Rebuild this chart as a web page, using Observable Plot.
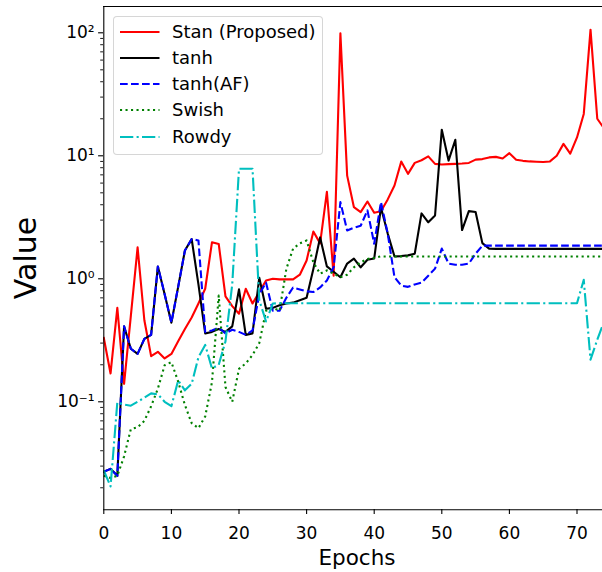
<!DOCTYPE html>
<html>
<head>
<meta charset="utf-8">
<script src="https://cdn.jsdelivr.net/npm/d3@7"></script>
<script src="https://cdn.jsdelivr.net/npm/@observablehq/plot@0.6"></script>
<style>
  html, body { margin: 0; padding: 0; background: #fff; }
  #wrap { position: relative; width: 602px; height: 572px; overflow: hidden; font-family: "DejaVu Sans", sans-serif; }
  #legend { position: absolute; left: 112.5px; top: 15.5px; width: 210px; height: 139px; box-sizing: border-box;
            border: 1.2px solid rgba(204,204,204,0.8); border-radius: 4px; background: rgba(255,255,255,0.8); }
  .row { position: absolute; left: 0; height: 26px; }
  .row svg { position: absolute; left: 5px; top: 0; }
  .row span { position: absolute; left: 58.5px; font-size: 18px; white-space: nowrap; line-height: 1; transform: translateY(-50%); top: 50%; }
</style>
</head>
<body>
<div id="wrap"><div id="legend"></div></div>
<script>
// Training epochs (x axis)
const epochs = d3.range(75);

// Value per epoch for each activation function
const stan = [0.33, 0.17, 0.58, 0.14, 0.5, 1.8, 0.46, 0.235, 0.255, 0.225,
  0.245, 0.31, 0.39, 0.485, 0.63, 0.83, 1.98, 1.92, 0.72, 0.6,
  0.52, 0.83, 0.63, 0.78, 0.97, 1.0, 0.99, 0.99, 0.99, 1.08,
  1.41, 2.42, 1.94, 5.1, 1.06, 99, 6.9, 3.82, 3.48, 4.25,
  3.44, 3.54, 4.42, 5.73, 8.97, 7.13, 8.76, 9.2, 9.9, 8.6,
  8.5, 8.55, 8.6, 8.65, 8.75, 9.3, 9.4, 9.7, 9.8, 9.5,
  10.5, 9.3, 9.1, 9.0, 8.95, 8.9, 9.0, 10.0, 12.5, 10.4,
  14.1, 21.9, 106, 20, 16.7];

const tanh = [0.027, 0.0285, 0.025, 0.41, 0.27, 0.245, 0.325, 0.35, 1.26, 0.75,
  0.44, 0.86, 1.7, 2.1, 0.9, 0.36, 0.37, 0.39, 0.37, 0.41,
  0.82, 0.35, 0.36, 1.02, 0.57, 0.58, 0.61, 0.63, 0.64, 0.67,
  0.7, 1.2, 2.17, 1.26, 1.14, 1.03, 1.33, 1.46, 1.24, 1.43,
  1.46, 3.8, 2.33, 1.52, 1.53, 1.55, 1.6, 3.4, 2.88, 3.27,
  16.3, 9.14, 13.5, 2.49, 3.55, 3.49, 1.95, 1.76, 1.75, 1.75,
  1.75, 1.75, 1.75, 1.75, 1.75, 1.75, 1.75, 1.75, 1.75, 1.75,
  1.75, 1.75, 1.75, 1.75, 1.75];

const tanhAF = [0.027, 0.0285, 0.025, 0.41, 0.27, 0.245, 0.325, 0.35, 1.26, 0.75,
  0.44, 0.86, 1.7, 2.1, 2.05, 0.37, 0.38, 0.4, 0.36, 0.385,
  0.37, 0.35, 0.38, 0.75, 0.93, 0.55, 0.55, 0.7, 0.85, 0.82,
  0.79, 0.78, 0.85, 0.97, 1.24, 4.2, 2.47, 2.6, 2.7, 3.6,
  1.93, 4.2, 2.33, 1.03, 0.88, 0.86, 0.9, 0.93, 1.06, 1.21,
  1.76, 1.33, 1.3, 1.3, 1.33, 1.6, 1.86, 1.86, 1.86, 1.86,
  1.86, 1.86, 1.86, 1.86, 1.86, 1.86, 1.86, 1.86, 1.86, 1.86,
  1.86, 1.86, 1.86, 1.86, 1.86];

const swish = [0.025, 0.024, 0.025, 0.036, 0.06, 0.062, 0.07, 0.092, 0.128, 0.198,
  0.21, 0.146, 0.094, 0.067, 0.061, 0.076, 0.144, 0.73, 0.132, 0.1,
  0.185, 0.205, 0.24, 0.3, 0.55, 0.58, 0.55, 1.2, 1.76, 1.94,
  2.05, 1.36, 1.1, 1.17, 1.1, 1.03, 1.08, 1.24, 1.36, 1.45,
  1.48, 1.52, 1.52, 1.52, 1.52, 1.52, 1.52, 1.52, 1.52, 1.52,
  1.52, 1.52, 1.52, 1.52, 1.52, 1.52, 1.52, 1.52, 1.52, 1.52,
  1.52, 1.52, 1.52, 1.52, 1.52, 1.52, 1.52, 1.52, 1.52, 1.52,
  1.52, 1.52, 1.52, 1.52, 1.52];

const rowdy = [0.0277, 0.0205, 0.099, 0.095, 0.093, 0.1, 0.108, 0.117, 0.115, 0.1,
  0.092, 0.149, 0.124, 0.14, 0.23, 0.29, 0.187, 0.2, 0.31, 0.9,
  7.85, 7.85, 7.85, 0.67, 0.45, 0.63, 0.633, 0.633, 0.633, 0.633,
  0.633, 0.633, 0.633, 0.633, 0.633, 0.633, 0.633, 0.633, 0.633, 0.633,
  0.633, 0.633, 0.633, 0.633, 0.633, 0.633, 0.633, 0.633, 0.633, 0.633,
  0.633, 0.633, 0.633, 0.633, 0.633, 0.633, 0.633, 0.633, 0.633, 0.633,
  0.633, 0.633, 0.633, 0.633, 0.633, 0.633, 0.633, 0.633, 0.633, 0.633,
  0.633, 0.98, 0.22, 0.32, 0.45];

// Series names and line styles
const names = ["Stan (Proposed)", "tanh", "tanh(AF)", "Swish", "Rowdy"];
const colors = ["#ff0000", "#000000", "#0000ff", "#008000", "#00bfbf"];
const dashes = [null, null, "7.7,3.3", "2.1,3.4", "13.3,3.3,2.1,3.3"];
const seriesValues = [stan, tanh, tanhAF, swish, rowdy];

// Axis settings
const xDomain = [0, 75];
const yDomain = [0.01324, 163.6];
const xTicks = [0, 10, 20, 30, 40, 50, 60, 70];
const yMajor = [0.1, 1, 10, 100];
const yMinor = [];
for (const base of [0.01, 0.1, 1, 10, 100])
  for (let k = 2; k <= 9; ++k) {
    const v = +(base * k).toPrecision(3);
    if (v >= yDomain[0] && v <= yDomain[1]) yMinor.push(v);
  }

const supDigits = {"-": "⁻", "0": "⁰", "1": "¹", "2": "²", "3": "³"};
const powerLabel = d => "10" + String(Math.round(Math.log10(d))).split("").map(c => supDigits[c]).join("");

const lineMarks = seriesValues.map((vals, s) =>
  Plot.line(epochs.map((e, i) => ({epoch: e, value: vals[i]})), {
    x: "epoch", y: "value",
    stroke: colors[s], strokeWidth: 2.1,
    strokeDasharray: dashes[s] ?? undefined,
    strokeLinejoin: "round", strokeLinecap: dashes[s] ? "butt" : "square",
    clip: "frame"
  })
);

const chart = Plot.plot({
  width: 602, height: 572,
  marginLeft: 103, marginRight: 0, marginTop: 6, marginBottom: 63,
  style: {fontFamily: "DejaVu Sans", fontSize: "17px", color: "#000", background: "transparent", overflow: "hidden"},
  x: {domain: xDomain, range: [103.3, 610.3]},
  y: {type: "log", domain: yDomain, range: [509.3, 6]},
  marks: [
    ...lineMarks,
    Plot.ruleX([xDomain[0]], {stroke: "#000", strokeWidth: 1.1}),
    Plot.ruleY([yDomain[0]], {stroke: "#000", strokeWidth: 1.1}),
    Plot.ruleY([yDomain[1]], {stroke: "#000", strokeWidth: 1.1}),
    Plot.axisX({ticks: xTicks, tickSize: 4.9, tickPadding: 13, tickFormat: d => String(d), label: null, strokeWidth: 1.1}),
    Plot.axisY({ticks: yMajor, tickSize: 4.9, tickPadding: 4, tickFormat: powerLabel, label: null, strokeWidth: 1.1}),
    Plot.axisY({ticks: yMinor, tickSize: 2.8, tickFormat: () => "", label: null, strokeWidth: 0.9}),
    Plot.text(["Epochs"], {frameAnchor: "bottom", dx: 4, dy: 55, fontSize: 21.5, textAnchor: "middle"}),
    Plot.text(["Value"], {frameAnchor: "left", dx: -77, rotate: -90, fontSize: 30, textAnchor: "middle"})
  ]
});

document.getElementById("wrap").prepend(chart);

// Legend rows
const legend = document.getElementById("legend");
const rowTops = [15, 41.3, 67.3, 93.3, 120];
names.forEach((name, s) => {
  const row = document.createElement("div");
  row.className = "row";
  row.style.top = (rowTops[s] - 13) + "px";
  row.style.width = "100%";
  const ns = "http://www.w3.org/2000/svg";
  const svg = document.createElementNS(ns, "svg");
  svg.setAttribute("width", "42");
  svg.setAttribute("height", "26");
  const ln = document.createElementNS(ns, "line");
  ln.setAttribute("x1", "1"); ln.setAttribute("x2", "40.5");
  ln.setAttribute("y1", "13"); ln.setAttribute("y2", "13");
  ln.setAttribute("stroke", colors[s]);
  ln.setAttribute("stroke-width", "2.1");
  if (dashes[s]) ln.setAttribute("stroke-dasharray", dashes[s]);
  svg.appendChild(ln);
  const label = document.createElement("span");
  label.textContent = name;
  row.appendChild(svg);
  row.appendChild(label);
  legend.appendChild(row);
});
</script>
</body>
</html>
